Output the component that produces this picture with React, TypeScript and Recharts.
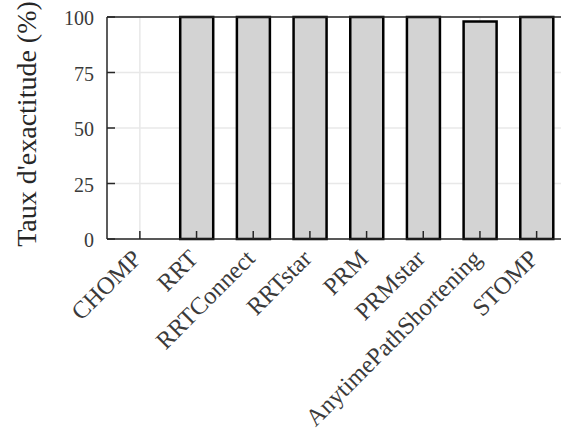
import { BarChart, Bar, XAxis, YAxis, CartesianGrid, ReferenceLine } from "recharts";

// Success rate per motion planner (%)
const planners = [
  "CHOMP",
  "RRT",
  "RRTConnect",
  "RRTstar",
  "PRM",
  "PRMstar",
  "AnytimePathShortening",
  "STOMP",
];
const accuracy = [0, 100, 100, 100, 100, 100, 98, 100];
const yTicks = [0, 25, 50, 75, 100];
const xTicks = planners.map((_, i) => i + 1);

const rows = planners.map((name, i) => ({ pos: i + 1, name, accuracy: accuracy[i] }));

const WIDTH = 570;
const HEIGHT = 437;
const PLOT_LEFT = 107;
const PLOT_RIGHT = 561;
const PLOT_BOTTOM = 239;
const INK = "#262626";
const TEXT = "#3a3a3a";
const FONT = '"Liberation Serif", "Times New Roman", serif';

// y ticks point into the plot, labels sit to the left
const LeftTick = ({ y, payload }: any) => (
  <g>
    <line x1={PLOT_LEFT} x2={PLOT_LEFT + 8} y1={y} y2={y} stroke={INK} strokeWidth={1.5} />
    <text x={94} y={y} dy={8} textAnchor="end" fontSize={20} fontFamily={FONT} fill={TEXT}>
      {payload.value}
    </text>
  </g>
);

const RightTick = ({ y }: any) => (
  <line x1={PLOT_RIGHT + 1} x2={WIDTH} y1={y} y2={y} stroke={INK} strokeWidth={1.5} />
);

// category ticks point up, names are slanted at 45°
const BottomTick = ({ x, payload }: any) => {
  const label = planners[Math.round(payload.value) - 1];
  return (
    <g>
      <line x1={x} x2={x} y1={PLOT_BOTTOM} y2={PLOT_BOTTOM - 8} stroke={INK} strokeWidth={1.5} />
      <text
        transform={`translate(${x + 3},${PLOT_BOTTOM + 21}) rotate(-45)`}
        textAnchor="end"
        fontSize={24.5}
        fontFamily={FONT}
        fill={TEXT}
      >
        {label}
      </text>
    </g>
  );
};

const YTitle = () => (
  <text
    transform="translate(36,124) rotate(-90)"
    textAnchor="middle"
    fontSize={28}
    fontFamily={FONT}
    fill={INK}
  >
    Taux d'exactitude (%)
  </text>
);

export default function App() {
  return (
    <div style={{ position: "absolute", left: 0, top: 0, width: WIDTH, height: HEIGHT, background: "#fff" }}>
      <BarChart
        width={WIDTH}
        height={HEIGHT}
        data={rows}
        margin={{ top: 17, right: 0, left: 0, bottom: 0 }}
      >
        <CartesianGrid
          yAxisId="left"
          stroke="#e8e8e8"
          strokeWidth={1.5}
          horizontalValues={yTicks}
          verticalValues={xTicks}
        />
        <Bar
          yAxisId="left"
          dataKey="accuracy"
          fill="#d3d3d3"
          stroke="#000"
          strokeWidth={2.5}
          barSize={33}
          isAnimationActive={false}
        />
        <ReferenceLine yAxisId="left" y={100} stroke={INK} strokeWidth={1.5} />
        <XAxis
          dataKey="pos"
          type="number"
          domain={[0.42, 8.43]}
          ticks={xTicks}
          interval={0}
          height={198}
          axisLine={{ stroke: INK, strokeWidth: 1.5 }}
          tickLine={false}
          tick={<BottomTick />}
        />
        <YAxis
          yAxisId="left"
          width={PLOT_LEFT}
          domain={[0, 100]}
          ticks={yTicks}
          axisLine={{ stroke: INK, strokeWidth: 1.5 }}
          tickLine={false}
          tick={<LeftTick />}
          label={{ content: () => <YTitle /> }}
        />
        <YAxis
          yAxisId="right"
          orientation="right"
          width={WIDTH - PLOT_RIGHT}
          domain={[0, 100]}
          ticks={yTicks}
          axisLine={false}
          tickLine={false}
          tick={<RightTick />}
        />
      </BarChart>
    </div>
  );
}
